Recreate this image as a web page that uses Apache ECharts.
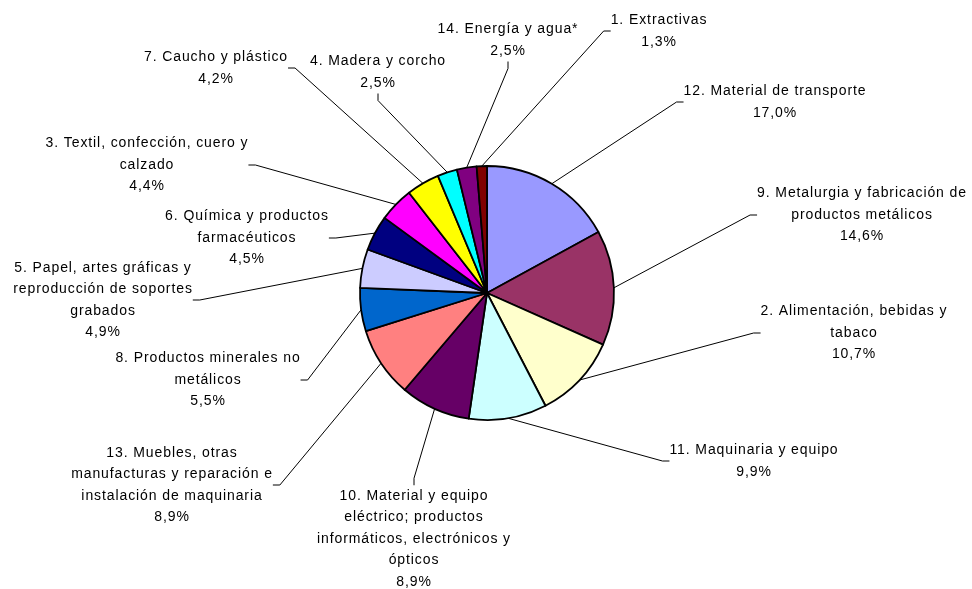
<!DOCTYPE html>
<html>
<head>
<meta charset="utf-8">
<script src="https://cdn.jsdelivr.net/npm/echarts@6/dist/echarts.min.js"></script>
<style>
html,body{margin:0;padding:0;background:#fff;}
#chart{width:972px;height:589px;}
</style>
</head>
<body>
<div id="chart"></div>
<script>
// Categories (clockwise from 12 o'clock)
const categories = [
  "12. Material de transporte",
  "9. Metalurgia y fabricación de\nproductos metálicos",
  "2. Alimentación, bebidas y\ntabaco",
  "11. Maquinaria y equipo",
  "10. Material y equipo\neléctrico; productos\ninformáticos, electrónicos y\nópticos",
  "13. Muebles, otras\nmanufacturas y reparación e\ninstalación de maquinaria",
  "8. Productos minerales no\nmetálicos",
  "5. Papel, artes gráficas y\nreproducción de soportes\ngrabados",
  "6. Química y productos\nfarmacéuticos",
  "3. Textil, confección, cuero y\ncalzado",
  "7. Caucho y plástico",
  "4. Madera y corcho",
  "14. Energía y agua*",
  "1. Extractivas"
];
// Percent share
const values = [17.0, 14.6, 10.7, 9.9, 8.9, 8.9, 5.5, 4.9, 4.5, 4.4, 4.2, 2.5, 2.5, 1.3];
const colors = ["#9999FF","#993366","#FFFFCC","#CCFFFF","#660066","#FF8080","#0066CC",
                "#CCCCFF","#000080","#FF00FF","#FFFF00","#00FFFF","#800080","#800000"];
// Label block centres (layout only)
const labelPos = [
  [775,102],[862,215],[854,333],[754,461],[414,539],[172,485],[208,380],
  [103,300],[247,238],[147,165],[216,68],[378,72],[508,40],[659,31]
];

// Slightly wider letter spacing, like the original rendering
(function(){
  const P = CanvasRenderingContext2D.prototype;
  const sp = '0.9px';
  const f = P.fillText, m = P.measureText;
  P.fillText = function(){ try{ this.letterSpacing = sp; }catch(e){} return f.apply(this, arguments); };
  P.measureText = function(){ try{ this.letterSpacing = sp; }catch(e){} return m.apply(this, arguments); };
})();

const chart = echarts.init(document.getElementById('chart'), null, {renderer:'canvas'});
chart.setOption({
  backgroundColor:'#ffffff',
  animation:false,
  series:[{
    type:'pie',
    center:[487,293],
    radius:127,
    startAngle:90,
    clockwise:true,
    avoidLabelOverlap:false,
    data: categories.map((c,i)=>({name:c, value:values[i], itemStyle:{color:colors[i]}})),
    itemStyle:{borderColor:'#000',borderWidth:1.8},
    label:{
      show:true,
      color:'#000',
      fontFamily:'Liberation Sans, Arial, sans-serif',
      fontSize:14,
      lineHeight:21.5,
      align:'center',
      formatter:(p)=>p.name+'\n'+p.value.toFixed(1).replace('.',',')+'%'
    },
    labelLine:{show:true,length:10,length2:7,smooth:false,lineStyle:{color:'#000',width:1}},
    labelLayout:(params)=>{
      const pos = labelPos[params.dataIndex];
      return {x:pos[0], y:pos[1], align:'center', verticalAlign:'middle', moveOverlap:null};
    },
    emphasis:{disabled:true}
  }]
});
</script>
</body>
</html>
